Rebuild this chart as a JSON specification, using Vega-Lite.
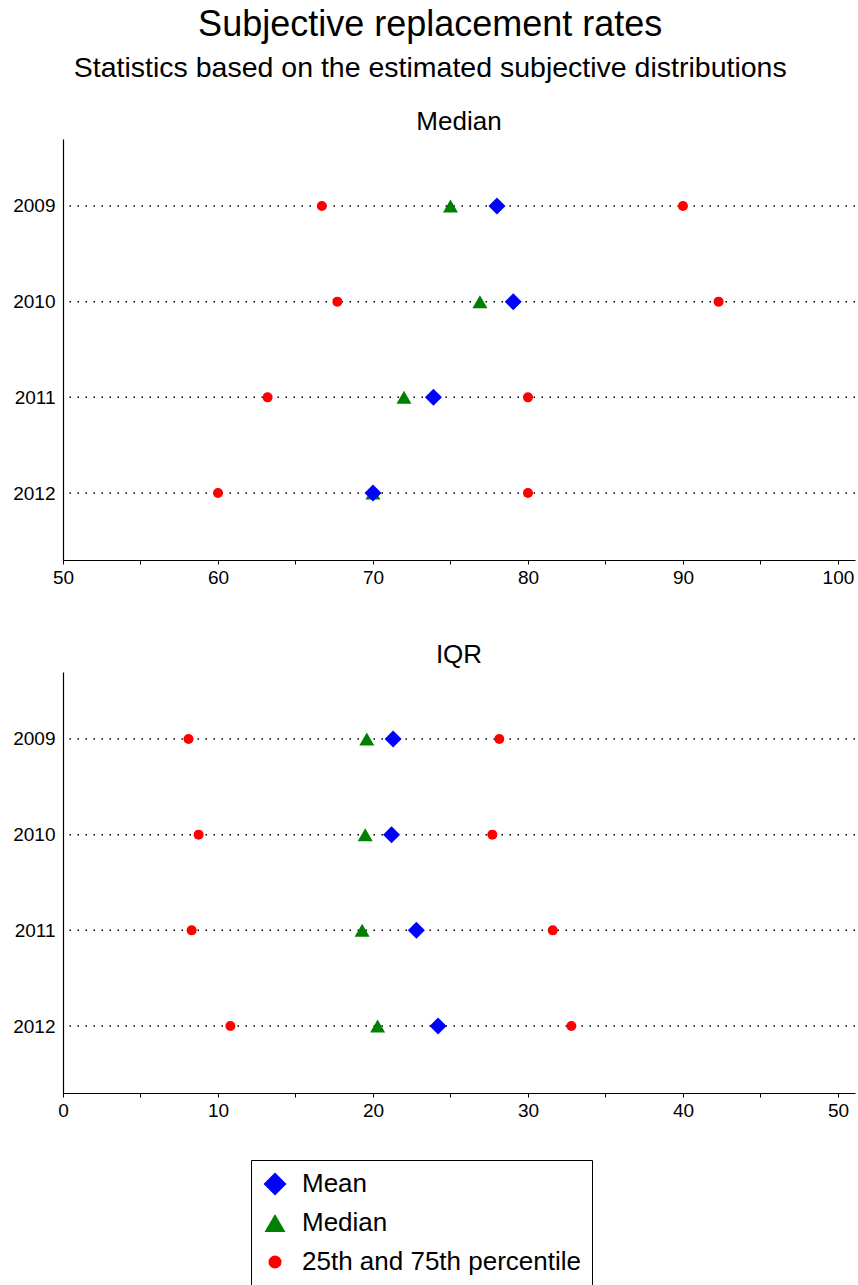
{
  "$schema": "https://vega.github.io/schema/vega-lite/v6.json",
  "padding": {"left": 12, "top": 6, "right": 3, "bottom": 0},
  "background": "white",
  "title": {
    "text": "Subjective replacement rates",
    "subtitle": "Statistics based on the estimated subjective distributions",
    "fontSize": 36,
    "subtitleFontSize": 28.5,
    "font": "Liberation Sans",
    "subtitleFont": "Liberation Sans",
    "fontWeight": "normal",
    "anchor": "middle",
    "frame": "bounds",
    "offset": 26,
    "dx": -4,
    "subtitlePadding": 10,
    "color": "black",
    "subtitleColor": "black"
  },
  "datasets": {
    "years": [{"year": "2009"}, {"year": "2010"}, {"year": "2011"}, {"year": "2012"}],
    "median": [
      {"year": "2009", "stat": "25th and 75th percentile", "value": 66.7},
      {"year": "2009", "stat": "25th and 75th percentile", "value": 90.0},
      {"year": "2010", "stat": "25th and 75th percentile", "value": 67.7},
      {"year": "2010", "stat": "25th and 75th percentile", "value": 92.3},
      {"year": "2011", "stat": "25th and 75th percentile", "value": 63.2},
      {"year": "2011", "stat": "25th and 75th percentile", "value": 80.0},
      {"year": "2012", "stat": "25th and 75th percentile", "value": 60.0},
      {"year": "2012", "stat": "25th and 75th percentile", "value": 80.0},
      {"year": "2009", "stat": "Median", "value": 75.0},
      {"year": "2010", "stat": "Median", "value": 76.9},
      {"year": "2011", "stat": "Median", "value": 72.0},
      {"year": "2012", "stat": "Median", "value": 70.0},
      {"year": "2009", "stat": "Mean", "value": 78.0},
      {"year": "2010", "stat": "Mean", "value": 79.05},
      {"year": "2011", "stat": "Mean", "value": 73.9},
      {"year": "2012", "stat": "Mean", "value": 70.0}
    ],
    "iqr": [
      {"year": "2009", "stat": "25th and 75th percentile", "value": 8.1},
      {"year": "2009", "stat": "25th and 75th percentile", "value": 28.15},
      {"year": "2010", "stat": "25th and 75th percentile", "value": 8.75},
      {"year": "2010", "stat": "25th and 75th percentile", "value": 27.7},
      {"year": "2011", "stat": "25th and 75th percentile", "value": 8.3},
      {"year": "2011", "stat": "25th and 75th percentile", "value": 31.6},
      {"year": "2012", "stat": "25th and 75th percentile", "value": 10.8},
      {"year": "2012", "stat": "25th and 75th percentile", "value": 32.8},
      {"year": "2009", "stat": "Median", "value": 19.6},
      {"year": "2010", "stat": "Median", "value": 19.5},
      {"year": "2011", "stat": "Median", "value": 19.3},
      {"year": "2012", "stat": "Median", "value": 20.3},
      {"year": "2009", "stat": "Mean", "value": 21.3},
      {"year": "2010", "stat": "Mean", "value": 21.2},
      {"year": "2011", "stat": "Mean", "value": 22.8},
      {"year": "2012", "stat": "Mean", "value": 24.2}
    ]
  },
  "spacing": 55,
  "resolve": {"scale": {"x": "independent", "y": "independent", "color": "shared", "shape": "shared"}},
  "vconcat": [
    {
      "width": 792,
      "height": 421,
      "title": "Median",
      "data": {"name": "median"},
      "encoding": {
        "x": {"field": "value", "type": "quantitative", "scale": {"domain": [50, 101.1], "nice": false, "zero": false},
              "axis": {"title": null, "values": [50, 55, 60, 65, 70, 75, 80, 85, 90, 95, 100], "labelExpr": "datum.value % 10 === 0 ? datum.label : ''"}},
        "y": {"field": "year", "type": "ordinal", "scale": {"type": "point", "padding": 0.7}, "axis": {"title": null}},
        "shape": {"field": "stat", "type": "nominal", "scale": {"domain": ["Mean", "Median", "25th and 75th percentile"], "range": ["diamond", "triangle-up", "circle"]},
                  "legend": {"encode": {"symbols": {"update": {"size": {"signal": "datum.value === 'Mean' ? 530 : datum.value === 'Median' ? 440 : 170"}}}}}},
        "color": {"field": "stat", "type": "nominal", "scale": {"domain": ["Mean", "Median", "25th and 75th percentile"], "range": ["#0000ff", "#008000", "#ff0000"]},
                  "legend": {"encode": {"symbols": {"update": {"size": {"signal": "datum.value === 'Mean' ? 530 : datum.value === 'Median' ? 440 : 170"}}}}}}
      },
      "layer": [
        {
          "data": {"name": "years"},
          "mark": {"type": "rule", "color": "black", "strokeWidth": 1.5, "strokeDash": [1.5, 6.5]},
          "encoding": {
            "x": null,
            "shape": null,
            "color": null
          }
        },
        {
          "transform": [{"filter": "datum.stat === '25th and 75th percentile'"}],
          "mark": {"type": "point", "filled": true, "opacity": 1, "strokeWidth": 0, "size": 100}
        },
        {
          "transform": [{"filter": "datum.stat === 'Median'"}],
          "mark": {"type": "point", "filled": true, "opacity": 1, "strokeWidth": 0, "size": 225}
        },
        {
          "transform": [{"filter": "datum.stat === 'Mean'"}],
          "mark": {"type": "point", "filled": true, "opacity": 1, "strokeWidth": 0, "size": 289}
        }
      ]
    },
    {
      "width": 792,
      "height": 421,
      "title": "IQR",
      "data": {"name": "iqr"},
      "encoding": {
        "x": {"field": "value", "type": "quantitative", "scale": {"domain": [0, 51.1], "nice": false, "zero": false},
              "axis": {"title": null, "values": [0, 5, 10, 15, 20, 25, 30, 35, 40, 45, 50], "labelExpr": "datum.value % 10 === 0 ? datum.label : ''"}},
        "y": {"field": "year", "type": "ordinal", "scale": {"type": "point", "padding": 0.7}, "axis": {"title": null}},
        "shape": {"field": "stat", "type": "nominal", "scale": {"domain": ["Mean", "Median", "25th and 75th percentile"], "range": ["diamond", "triangle-up", "circle"]},
                  "legend": {"encode": {"symbols": {"update": {"size": {"signal": "datum.value === 'Mean' ? 530 : datum.value === 'Median' ? 440 : 170"}}}}}},
        "color": {"field": "stat", "type": "nominal", "scale": {"domain": ["Mean", "Median", "25th and 75th percentile"], "range": ["#0000ff", "#008000", "#ff0000"]},
                  "legend": {"encode": {"symbols": {"update": {"size": {"signal": "datum.value === 'Mean' ? 530 : datum.value === 'Median' ? 440 : 170"}}}}}}
      },
      "layer": [
        {
          "data": {"name": "years"},
          "mark": {"type": "rule", "color": "black", "strokeWidth": 1.5, "strokeDash": [1.5, 6.5]},
          "encoding": {
            "x": null,
            "shape": null,
            "color": null
          }
        },
        {
          "transform": [{"filter": "datum.stat === '25th and 75th percentile'"}],
          "mark": {"type": "point", "filled": true, "opacity": 1, "strokeWidth": 0, "size": 100}
        },
        {
          "transform": [{"filter": "datum.stat === 'Median'"}],
          "mark": {"type": "point", "filled": true, "opacity": 1, "strokeWidth": 0, "size": 225}
        },
        {
          "transform": [{"filter": "datum.stat === 'Mean'"}],
          "mark": {"type": "point", "filled": true, "opacity": 1, "strokeWidth": 0, "size": 289}
        }
      ]
    }
  ],
  "config": {
    "view": {"stroke": null},
    "font": "Liberation Sans",
    "axis": {"grid": false, "domainColor": "black", "domainWidth": 1.2, "tickColor": "black", "labelColor": "black", "labelFont": "Liberation Sans", "labelFontSize": 19},
    "axisY": {"ticks": false, "labelPadding": 8},
    "axisX": {"tickSize": 4, "labelPadding": 4, "labelFlush": false},
    "title": {"fontSize": 26, "fontWeight": "normal", "color": "black", "font": "Liberation Sans", "offset": 4},
    "legend": {
      "orient": "none",
      "legendX": 188,
      "legendY": 1021,
      "title": null,
      "direction": "vertical",
      "strokeColor": "black",
      "padding": 11,
      "labelFontSize": 26,
      "labelFont": "Liberation Sans",
      "labelColor": "black",
      "labelOffset": 14,
      "labelLimit": 400,
      "rowPadding": 13,
      "symbolOpacity": 1,
      "symbolStrokeWidth": 0,
      "symbolType": "circle"
    }
  }
}
